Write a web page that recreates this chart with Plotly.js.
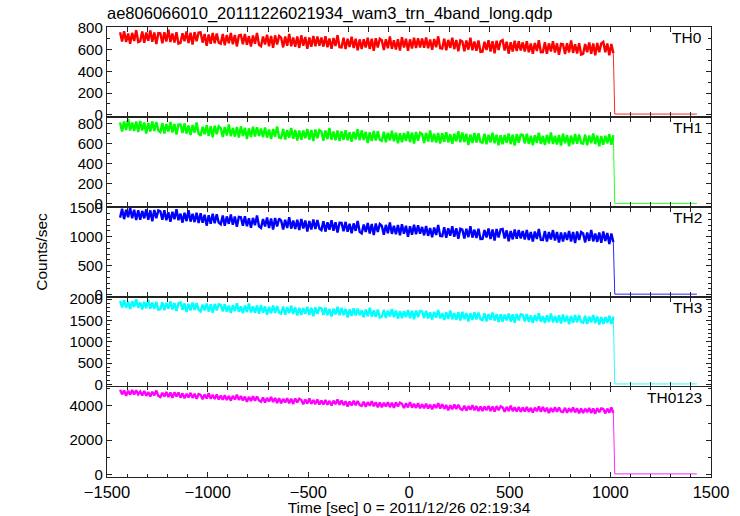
<!DOCTYPE html>
<html>
<head>
<meta charset="utf-8">
<script src="https://cdn.plot.ly/plotly-3.0.1.min.js"></script>
<style>html,body{margin:0;padding:0;background:#fff;}#chart{width:740px;height:516px;}</style>
</head>
<body>
<div id="chart"></div>
<script>
// Light-curve bins: start time and bin width (sec), values per band
const T_START = -1435;
const T_STEP = 10;
const tailTime = [1022, 1430];

const panelNames = ["TH0", "TH1", "TH2", "TH3", "TH0123"];
const colors = ["#ff0000", "#00ff00", "#0000ff", "#00ffff", "#ff00ff"];

const th0 = [
760,675,770,670,750,655,755,680,780,670,
678,768,663,758,683,778,673,758,653,753,
750,660,760,675,785,670,750,665,760,655,
662,752,677,767,662,757,647,762,677,757,
760,665,745,635,740,655,755,660,750,665,
655,745,640,735,660,755,650,735,630,730,
735,650,745,645,725,630,730,655,755,645,
632,722,647,737,632,727,617,732,647,727,
711,621,721,636,746,631,711,626,721,616,
732,637,717,607,712,627,727,632,722,637,
713,628,723,623,703,608,708,633,733,623,
620,710,605,700,625,720,615,700,595,695,
605,695,620,710,605,700,590,705,620,700,
687,597,697,612,722,607,687,602,697,592,
715,620,700,590,695,610,710,615,705,620,
703,618,713,613,693,598,698,623,723,613,
610,700,595,690,615,710,605,690,585,685,
675,585,685,600,710,595,675,590,685,580,
582,672,597,687,582,677,567,682,597,677,
688,593,673,563,668,583,683,588,678,593,
667,582,677,577,657,562,662,587,687,577,
578,668,563,658,583,678,573,658,553,653,
650,560,660,575,685,570,650,565,660,555,
562,652,577,667,562,657,547,662,577,657,
672,577,657,547,652,567];
const th0Tail = [6, 6];

const th1 = [
810,720,820,735,845,730,810,725,820,715,
825,730,810,700,805,720,820,725,815,730,
715,805,700,795,720,815,710,795,690,790,
790,705,800,700,780,685,785,710,810,700,
678,768,693,783,678,773,663,778,693,773,
755,665,765,680,790,675,755,670,765,660,
772,677,757,647,752,667,767,672,762,677,
750,665,760,660,740,645,745,670,770,660,
655,745,640,735,660,755,650,735,630,730,
640,730,655,745,640,735,625,740,655,735,
720,630,730,645,755,640,720,635,730,625,
723,638,733,633,713,618,718,643,743,633,
732,637,717,607,712,627,727,632,722,637,
628,718,613,708,633,728,623,708,603,703,
615,705,630,720,615,710,600,715,630,710,
697,607,707,622,732,617,697,612,707,602,
703,618,713,613,693,598,698,623,723,613,
712,617,697,587,692,607,707,612,702,617,
608,698,593,688,613,708,603,688,583,683,
595,685,610,700,595,690,580,695,610,690,
688,603,698,598,678,583,683,608,708,598,
677,587,687,602,712,597,677,592,687,582,
700,605,685,575,680,595,695,600,690,605,
600,690,585,680,605,700,595,680,575,675,
588,678,603,693,588,683];
const th1Tail = [6, 6];

const th2 = [
1327,1480,1301,1463,1335,1497,1318,1463,1284,1455,
1290,1443,1315,1469,1290,1452,1264,1460,1315,1452,
1437,1292,1454,1283,1420,1258,1428,1300,1471,1283,
1395,1241,1412,1267,1454,1258,1395,1250,1412,1233,
1402,1240,1377,1189,1368,1223,1394,1232,1385,1240,
1212,1365,1186,1348,1220,1382,1203,1348,1169,1340,
1332,1187,1349,1178,1315,1153,1323,1195,1366,1178,
1150,1303,1175,1329,1150,1312,1124,1320,1175,1312,
1275,1121,1292,1147,1334,1138,1275,1130,1292,1113,
1302,1140,1277,1089,1268,1123,1294,1132,1285,1140,
1112,1265,1086,1248,1120,1282,1103,1248,1069,1240,
1237,1092,1254,1083,1220,1058,1228,1100,1271,1083,
1055,1208,1080,1234,1055,1217,1029,1225,1080,1217,
1185,1031,1202,1057,1244,1048,1185,1040,1202,1023,
1212,1050,1187,999,1178,1033,1204,1042,1195,1050,
1167,1022,1184,1013,1150,988,1158,1030,1201,1013,
1007,1160,981,1143,1015,1177,998,1143,964,1135,
1120,966,1137,992,1179,983,1120,975,1137,958,
960,1113,985,1139,960,1122,934,1130,985,1122,
1132,970,1107,919,1098,953,1124,962,1115,970,
1097,952,1114,943,1080,918,1088,960,1131,943,
942,1095,916,1078,950,1112,933,1078,899,1070,
917,1070,942,1096,917,1079,891,1087,942,1079,
1055,901,1072,927,1114,918,1055,910,1072,893,
1087,925,1062,874,1053,908];
const th2Tail = [10, 10];

const th3 = [
1961,1808,1979,1799,1943,1772,1952,1817,1997,1799,
1923,1761,1941,1788,1986,1779,1923,1770,1941,1752,
1768,1930,1741,1912,1777,1948,1759,1912,1723,1903,
1928,1757,1901,1703,1892,1739,1919,1748,1910,1757,
1710,1872,1737,1899,1710,1881,1683,1890,1737,1881,
1866,1713,1884,1704,1848,1677,1857,1722,1902,1704,
1833,1671,1851,1698,1896,1689,1833,1680,1851,1662,
1858,1687,1831,1633,1822,1669,1849,1678,1840,1687,
1663,1825,1636,1807,1672,1843,1654,1807,1618,1798,
1630,1792,1657,1819,1630,1801,1603,1810,1657,1801,
1786,1633,1804,1624,1768,1597,1777,1642,1822,1624,
1798,1627,1771,1573,1762,1609,1789,1618,1780,1627,
1738,1576,1756,1603,1801,1594,1738,1585,1756,1567,
1588,1750,1561,1732,1597,1768,1579,1732,1543,1723,
1555,1717,1582,1744,1555,1726,1528,1735,1582,1726,
1711,1558,1729,1549,1693,1522,1702,1567,1747,1549,
1673,1511,1691,1538,1736,1529,1673,1520,1691,1502,
1703,1532,1676,1478,1667,1514,1694,1523,1685,1532,
1508,1670,1481,1652,1517,1688,1499,1652,1463,1643,
1475,1637,1502,1664,1475,1646,1448,1655,1502,1646,
1631,1478,1649,1469,1613,1442,1622,1487,1667,1469,
1603,1441,1621,1468,1666,1459,1603,1450,1621,1432,
1638,1467,1611,1413,1602,1449,1629,1458,1620,1467,
1448,1610,1421,1592,1457,1628,1439,1592,1403,1583,
1420,1582,1447,1609,1420,1591];
const th3Tail = [10, 10];

const th0123 = [
4948,4682,4906,4598,4892,4654,4934,4668,4920,4682,
4846,4608,4874,4594,4818,4552,4832,4622,4902,4594,
4520,4772,4562,4814,4520,4786,4478,4800,4562,4786,
4488,4740,4446,4712,4502,4768,4474,4712,4418,4698,
4648,4396,4676,4438,4746,4424,4648,4410,4676,4382,
4606,4368,4634,4354,4578,4312,4592,4382,4662,4354,
4588,4322,4546,4238,4532,4294,4574,4308,4560,4322,
4248,4500,4206,4472,4262,4528,4234,4472,4178,4458,
4160,4412,4202,4454,4160,4426,4118,4440,4202,4426,
4348,4096,4376,4138,4446,4124,4348,4110,4376,4082,
4326,4088,4354,4074,4298,4032,4312,4102,4382,4074,
4318,4052,4276,3968,4262,4024,4304,4038,4290,4052,
3998,4250,3956,4222,4012,4278,3984,4222,3928,4208,
3930,4182,3972,4224,3930,4196,3888,4210,3972,4196,
4128,3876,4156,3918,4226,3904,4128,3890,4156,3862,
4106,3868,4134,3854,4078,3812,4092,3882,4162,3854,
4098,3832,4056,3748,4042,3804,4084,3818,4070,3832,
3768,4020,3726,3992,3782,4048,3754,3992,3698,3978,
3710,3962,3752,4004,3710,3976,3668,3990,3752,3976,
3918,3666,3946,3708,4016,3694,3918,3680,3946,3652,
3916,3678,3944,3664,3888,3622,3902,3692,3972,3664,
3938,3672,3896,3588,3882,3644,3924,3658,3910,3672,
3638,3890,3596,3862,3652,3918,3624,3862,3568,3848,
3590,3842,3632,3884,3590,3856,3548,3870,3632,3856,
3818,3566,3846,3608,3916,3594];
const th0123Tail = [25, 25];

const series = [th0, th1, th2, th3, th0123];
const tails = [th0Tail, th1Tail, th2Tail, th3Tail, th0123Tail];
const yRanges = [[-21, 809], [-30, 865], [-39, 1510], [-62, 2052], [-158, 5111]];
const yDticks = [200, 200, 500, 500, 2000];
const yMinor = [100, 100, 100, 100, 1000];

const FONT = "Liberation Sans, Arial, Helvetica, sans-serif";
const AX = "#222";

const traces = [];
series.forEach((vals, k) => {
  const t = vals.map((_, i) => T_START + i * T_STEP);
  const yax = k === 0 ? "y" : "y" + (k + 1);
  // noisy light curve (dense band)
  traces.push({
    x: t, y: vals, type: "scatter", mode: "lines",
    line: {color: colors[k], width: 2.4, simplify: false},
    xaxis: "x", yaxis: yax, showlegend: false, hoverinfo: "skip"
  });
  // drop and flat tail, thin line
  traces.push({
    x: [t[t.length - 1]].concat(tailTime),
    y: [vals[vals.length - 1]].concat(tails[k]),
    type: "scatter", mode: "lines",
    line: {color: colors[k], width: 1},
    opacity: 0.85,
    xaxis: "x", yaxis: yax, showlegend: false, hoverinfo: "skip"
  });
});

const layout = {
  width: 740, height: 516,
  margin: {l: 107, r: 29, t: 27, b: 39},
  paper_bgcolor: "#fff", plot_bgcolor: "#fff",
  font: {family: FONT, color: "#000", size: 15},
  showlegend: false,
  title: {
    text: "ae806066010_20111226021934_wam3_trn_4band_long.qdp",
    font: {family: FONT, size: 16.5, color: "#000"},
    xref: "paper", x: 0, xanchor: "left",
    yref: "container", y: 1 - 13 / 516, yanchor: "middle"
  },
  xaxis: {
    range: [-1500, 1500], anchor: "y5",
    dtick: 500, tick0: 0, ticks: "inside", ticklen: 5, tickwidth: 1, tickcolor: AX,
    minor: {dtick: 100, ticks: "inside", ticklen: 3, tickcolor: AX, showgrid: false},
    showline: true, linecolor: AX, linewidth: 1.2, mirror: "allticks",
    showgrid: false, zeroline: false,
    tickfont: {size: 16.5},
    title: {text: "Time [sec] 0 = 2011/12/26 02:19:34", font: {size: 15.5}, standoff: 3}
  },
  annotations: []
};

for (let k = 0; k < 5; k++) {
  const name = k === 0 ? "yaxis" : "yaxis" + (k + 1);
  const top = 1 - 0.2 * k;
  layout[name] = {
    domain: [top - 0.2, top], anchor: "x",
    range: yRanges[k], dtick: yDticks[k], tick0: 0,
    ticks: "inside", ticklen: 5, tickwidth: 1, tickcolor: AX,
    minor: {dtick: yMinor[k], ticks: "inside", ticklen: 3, tickcolor: AX, showgrid: false},
    showline: true, linecolor: AX, linewidth: 1.2, mirror: "ticks",
    showgrid: false, zeroline: false,
    tickfont: {size: 15}
  };
  layout.annotations.push({
    text: panelNames[k], xref: "paper", yref: "paper",
    x: 1, y: top, xanchor: "right", yanchor: "middle",
    xshift: -7, yshift: -10.5, showarrow: false,
    font: {family: FONT, size: 15.5, color: "#000"}
  });
}
layout.yaxis3.title = {text: "Counts/sec", font: {size: 15.5}, standoff: 18};

Plotly.newPlot("chart", traces, layout, {staticPlot: true, displayModeBar: false});
</script>
</body>
</html>
